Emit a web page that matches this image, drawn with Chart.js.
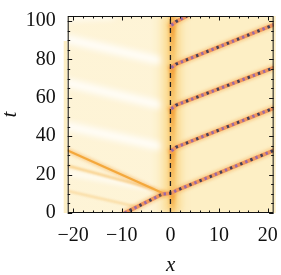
<!DOCTYPE html>
<html>
<head>
<meta charset="utf-8">
<script src="https://cdn.jsdelivr.net/npm/chart.js@4.4.0/dist/chart.umd.min.js"></script>
<style>
  html, body { margin: 0; padding: 0; background: #fff; }
  #wrap { width: 281px; height: 275px; }
</style>
</head>
<body>
<div id="wrap"><canvas id="c"></canvas></div>
<script>
// ─── Axes ─────────────────────────────────────────────────
const X_MIN = -21.1, X_MAX = 21.2;
const T_MIN = 0, T_MAX = 102.6;
const xTicks = [-20, -10, 0, 10, 20];
const tTicks = [0, 20, 40, 60, 80, 100];
const xMinor = [-20, -18, -16, -14, -12, -10, -8, -6, -4, -2, 0, 2, 4, 6, 8, 10, 12, 14, 16, 18, 20];
const tMinor = [0, 5, 10, 15, 20, 25, 30, 35, 40, 45, 50, 55, 60, 65, 70, 75, 80, 85, 90, 95, 100];

// ─── Trajectories ([x, t]) ────────────────────────────────
// incoming soliton hitting the defect
const incoming = [[-9.4, 0], [-1.6, 9.9]];
// reflected wave and its faint echoes going left
const reflected = [[-1.4, 10.1], [-21.1, 32.6]];
const echo1 = [[-3.5, 12.6], [-21.1, 24.6]];
const echo2 = [[-6.5, 3.0], [-21.1, 11.5]];
// pale streaks in the left half
const streak1 = [[-21.1, 90.5], [-2.6, 79.6]];
const streak2 = [[-21.1, 67.8], [-2.6, 56.4]];
const streak3 = [[-21.1, 45.2], [-2.6, 35.0]];
const streak4 = [[-21.1, 21.0], [-4.0, 13.0]];
const streak5 = [[-21.1, 101.5], [-12.0, 102.6]];
// solitons emitted to the right after each trapping period
const emit1 = [[-1.4, 9.9], [0.3, 10.4], [1.1, 11.6], [21.2, 32.6]];
const emit2 = [[0.2, 32.4], [1.1, 34.2], [21.2, 54.6]];
const emit3 = [[0.2, 54.3], [1.1, 56.1], [21.2, 75.6]];
const emit4 = [[0.2, 75.7], [1.1, 77.5], [21.2, 98.0]];
const emit5 = [[0.2, 97.8], [1.1, 99.6], [3.4, 102.6]];
// defect band: trapped energy builds up between emissions
const bandT = [0, 10.3, 33.0, 55.0, 76.5, 98.5, 102.6];
const defect = [[0, 0], [0, 102.6]];
// the left half of the field is paler than the right
const paleSpan = [X_MIN, -1.2];

const BG = '#fdefc5';
const canvas = document.getElementById('c');
const g2d = canvas.getContext('2d');

const pts = a => a.map(([x, y]) => ({ x, y }));
function line(data, color, width, extra) {
  return Object.assign({
    type: 'line', data: pts(data), borderColor: color, borderWidth: width,
    pointRadius: 0, fill: false, tension: 0, borderCapStyle: 'round'
  }, extra || {});
}
function soliton(data) {
  return [
    line(data, 'rgba(246,170,80,0.45)', 7, { blur: 1.5 }),
    line(data, '#f0945c', 3.8, { blur: 0.4 }),
    line(data, '#9a6aa6', 3, { borderDash: [2.4, 8.6], borderCapStyle: 'butt', blur: 0.5 }),
    line(data, '#45405a', 3, { borderDash: [2.4, 8.6], borderDashOffset: 5.5, borderCapStyle: 'butt', blur: 0.5 })
  ];
}
function bandGrad(light, dark) {
  return c => {
    const g = g2d.createLinearGradient(0, c.p0.y, 0, c.p1.y);
    g.addColorStop(0, light);
    g.addColorStop(1, dark);
    return g;
  };
}
const bandPts = bandT.map(t => [0.4, t]);

// bottom layer first
const layers = [
  line(streak1, 'rgba(255,255,255,0.9)', 8, { blur: 3 }),
  line(streak2, 'rgba(255,255,255,0.9)', 8, { blur: 3 }),
  line(streak3, 'rgba(255,255,255,0.9)', 8, { blur: 3 }),
  line(streak4, 'rgba(255,255,255,0.75)', 5, { blur: 2.5 }),
  line(streak5, 'rgba(255,255,255,0.75)', 6, { blur: 3 }),
  line(bandPts, 'rgba(250,198,95,0.6)', 16, { blur: 4, borderCapStyle: 'butt' }),
  line(bandPts, '#f5b04a', 6, { blur: 1.5, borderCapStyle: 'butt',
    segment: { borderColor: bandGrad('rgba(248,190,90,0.3)', 'rgba(242,150,40,0.95)') } }),
  line(echo2, 'rgba(246,195,110,0.6)', 2, { blur: 1 }),
  line(echo1, 'rgba(245,185,90,0.75)', 2.2, { blur: 1 }),
  line(reflected, 'rgba(246,170,70,0.45)', 5, { blur: 1.5 }),
  line(reflected, '#f4a83c', 2.2),
  ...soliton(incoming),
  ...soliton(emit1), ...soliton(emit2), ...soliton(emit3), ...soliton(emit4), ...soliton(emit5),
  line(defect, '#222', 1.3, { borderDash: [5, 4], borderCapStyle: 'butt' })
];

const fmt = v => (v < 0 ? '\u2212' + Math.abs(v) : String(v));

const backdrop = {
  id: 'backdrop',
  beforeDatasetsDraw(chart) {
    const { ctx, chartArea: a, scales: { x } } = chart;
    ctx.save();
    ctx.fillStyle = BG;
    ctx.fillRect(a.left - 4, a.top + 25, 4, a.bottom - a.top - 25);
    ctx.fillRect(a.left, a.top, a.right - a.left + 2, a.bottom - a.top);
    const x0 = x.getPixelForValue(paleSpan[0]), x1 = x.getPixelForValue(paleSpan[1]);
    const g = ctx.createLinearGradient(x0, 0, x1, 0);
    g.addColorStop(0, 'rgba(255,255,255,0.3)');
    g.addColorStop(0.85, 'rgba(255,255,255,0.3)');
    g.addColorStop(1, 'rgba(255,255,255,0)');
    ctx.fillStyle = g;
    ctx.fillRect(x0, a.top, x1 - x0, a.bottom - a.top);
    ctx.restore();
  },
  beforeDatasetDraw(chart, args) {
    const b = args.meta._dataset.blur;
    chart.ctx.save();
    if (b) chart.ctx.filter = 'blur(' + b + 'px)';
  },
  afterDatasetDraw(chart) {
    chart.ctx.restore();
  },
  afterDatasetsDraw(chart) {
    const { ctx, chartArea: a, scales: { x, y } } = chart;
    ctx.save();
    ctx.strokeStyle = '#111';
    ctx.lineWidth = 1;
    ctx.strokeRect(a.left + 0.5, a.top + 0.5, a.right - a.left - 1, a.bottom - a.top - 1);
    ctx.beginPath();
    xMinor.forEach(v => {
      const px = Math.round(x.getPixelForValue(v)) + 0.5;
      const len = xTicks.includes(v) ? 4.5 : 2.5;
      ctx.moveTo(px, a.bottom); ctx.lineTo(px, a.bottom - len);
      ctx.moveTo(px, a.top); ctx.lineTo(px, a.top + len);
    });
    tMinor.forEach(v => {
      const py = Math.round(y.getPixelForValue(v)) + 0.5;
      const len = tTicks.includes(v) ? 4.5 : 2.5;
      ctx.moveTo(a.left, py); ctx.lineTo(a.left + len, py);
      ctx.moveTo(a.right, py); ctx.lineTo(a.right - len, py);
    });
    ctx.stroke();
    ctx.restore();
  }
};

const tickFont = { family: "'Liberation Serif', serif", size: 20 };
const titleFont = { family: "'Liberation Serif', serif", size: 21, style: 'italic' };

new Chart(canvas, {
  type: 'scatter',
  data: { datasets: layers.slice().reverse() },
  options: {
    responsive: true,
    maintainAspectRatio: false,
    animation: false,
    events: [],
    layout: { padding: { top: 7.5, right: 7, left: 0, bottom: 0 } },
    plugins: { legend: { display: false }, tooltip: { enabled: false } },
    scales: {
      x: {
        type: 'linear', min: X_MIN, max: X_MAX,
        afterBuildTicks: s => { s.ticks = xTicks.map(value => ({ value })); },
        afterFit: s => { s.height = 62; },
        grid: { display: false }, border: { display: false },
        ticks: { color: '#111', font: tickFont, padding: 3, maxRotation: 0, callback: fmt },
        title: { display: true, text: 'x', color: '#111', font: titleFont, padding: { top: 6, bottom: -3 } }
      },
      y: {
        type: 'linear', min: T_MIN, max: T_MAX,
        afterBuildTicks: s => { s.ticks = tTicks.map(value => ({ value })); },
        afterFit: s => { s.width = 67.7; },
        grid: { display: false }, border: { display: false },
        ticks: { color: '#111', font: tickFont, padding: 4, callback: fmt },
        title: { display: true, text: 't', color: '#111', font: titleFont, padding: { top: -2, bottom: 0 } }
      }
    }
  },
  plugins: [backdrop]
});
</script>
</body>
</html>
